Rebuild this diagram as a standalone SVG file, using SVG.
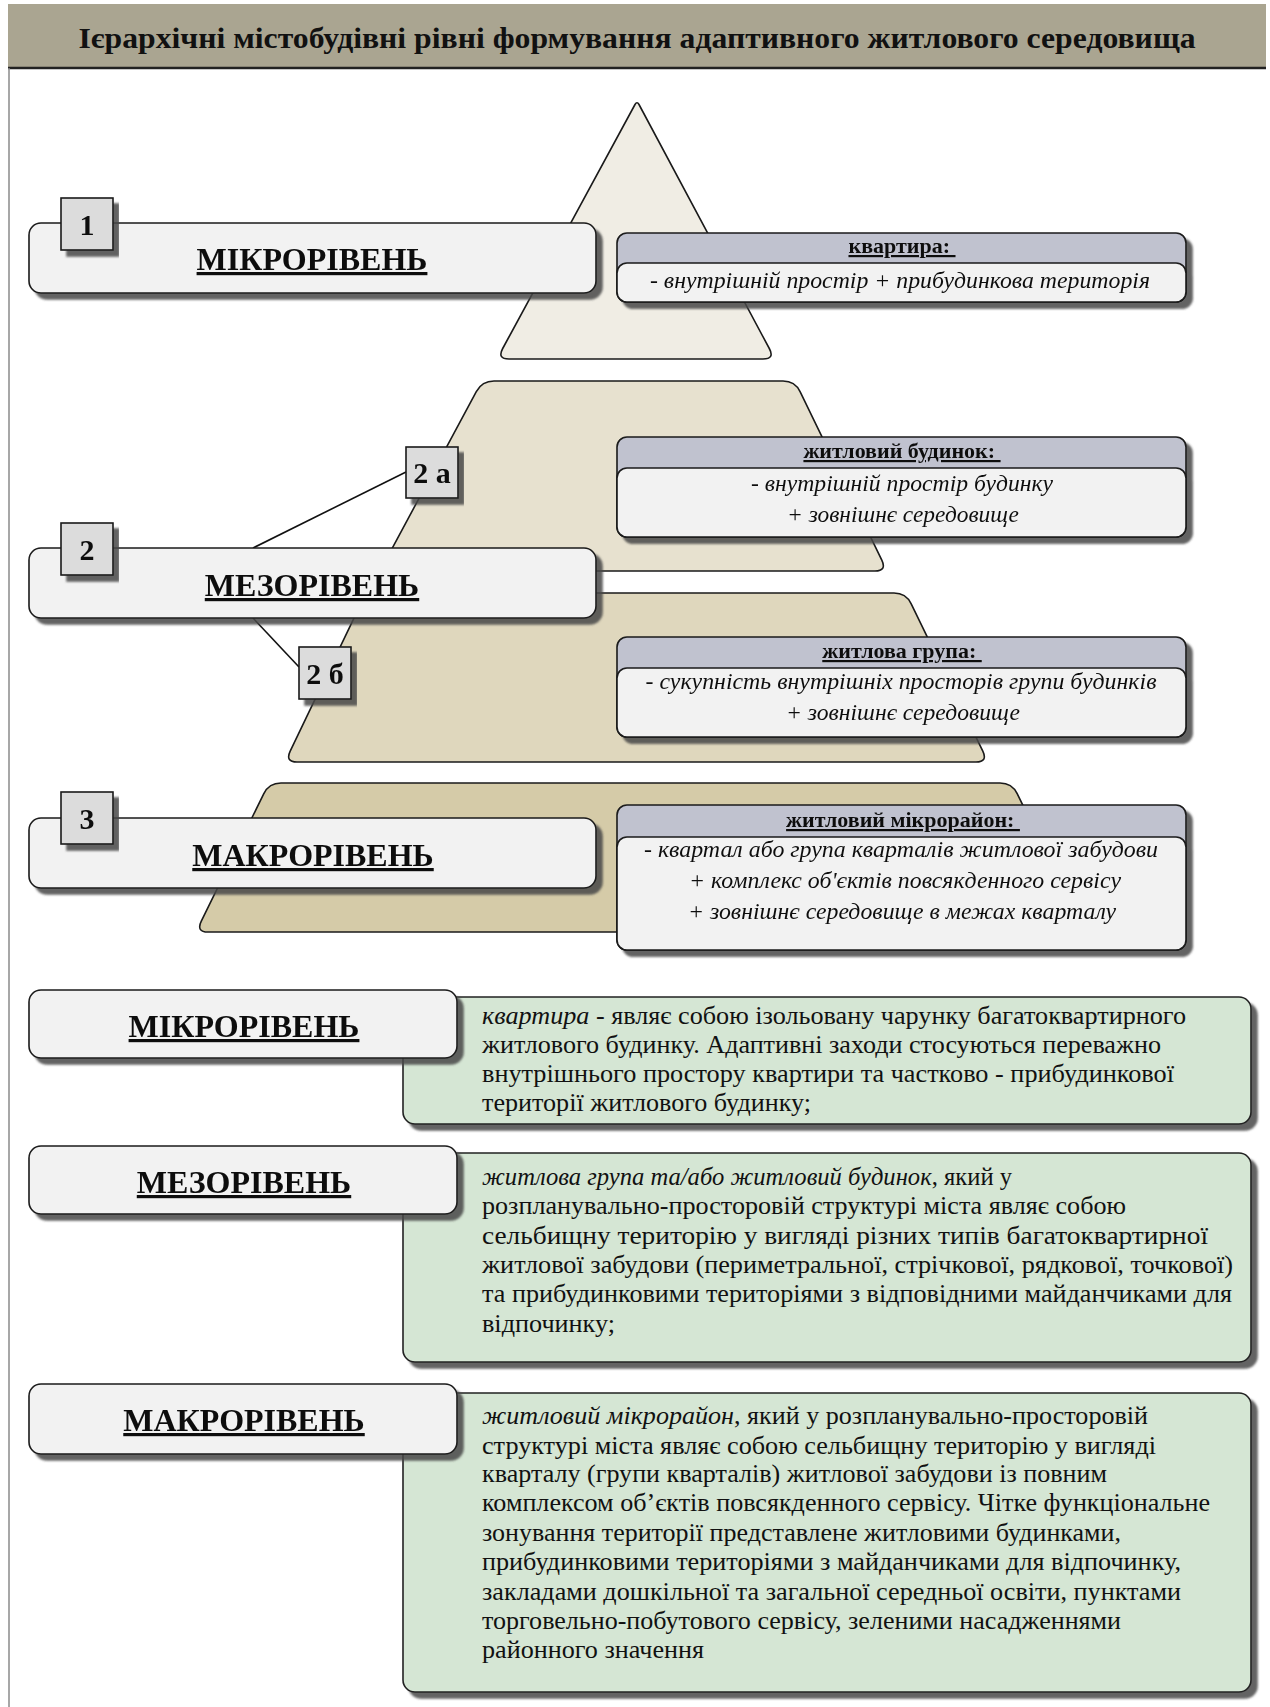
<svg xmlns="http://www.w3.org/2000/svg" width="1270" height="1707" viewBox="0 0 1270 1707">
<defs>
<filter id="sh" x="-5%" y="-10%" width="115%" height="135%">
<feDropShadow dx="6" dy="6" stdDeviation="1.2" flood-color="#4a4a4a" flood-opacity="0.85"/>
</filter>
<style>
text{font-family:"Liberation Serif","Times New Roman",serif;fill:#111}
.bar{fill:#f2f2f2;stroke:#1a1a1a;stroke-width:1.6}
.num{fill:#dcdcdc;stroke:#1a1a1a;stroke-width:1.6}
.hd{fill:#c0c2cf;stroke:#1a1a1a;stroke-width:1.6}
.bd{fill:#f2f2f2;stroke:#1a1a1a;stroke-width:1.6}
.gr{fill:#d5e6d4;stroke:#222;stroke-width:1.6}
.pyr{stroke:#1a1a1a;stroke-width:1.6}
.lvl{font-size:32px;font-weight:bold;text-anchor:middle;text-decoration:underline}
.nt{font-size:30px;font-weight:bold;text-anchor:middle}
.ht{font-size:22px;font-weight:bold;text-anchor:middle;text-decoration:underline}
.it{font-size:24px;font-style:italic;text-anchor:middle}
.gt{font-size:25px}
.gi{font-style:italic}
.conn{stroke:#111;stroke-width:1.6;fill:none}
</style>
</defs>
<rect width="1270" height="1707" fill="#ffffff"/>

<g id="title">
<rect x="8" y="4" width="1258" height="64" fill="#aaa591"/>
<line x1="8" y1="68" x2="1266" y2="68" stroke="#222" stroke-width="2.5"/>
<line x1="9" y1="68" x2="9" y2="1707" stroke="#8a8a8a" stroke-width="1.5"/>
<text x="637" y="48" font-size="29" font-weight="bold" text-anchor="middle" textLength="1117" lengthAdjust="spacingAndGlyphs">Ієрархічні містобудівні рівні формування адаптивного житлового середовища</text>
</g>

<g id="pyramid">
<path class="pyr" fill="#d5cba8" d="M281,783 L1000,783 Q1012,783 1017.3,793.8 L1079.7,921.2 Q1085,932 1073,932 L208,932 Q196,932 201.3,921.2 L263.7,793.8 Q269,783 281,783 Z"/>
<path class="pyr" fill="#dfd7bd" d="M378,593 L894,593 Q906,593 911.2,603.8 L982.8,751.2 Q988,762 976,762 L297,762 Q285,762 290.2,751.2 L360.8,603.8 Q366,593 378,593 Z"/>
<path class="pyr" fill="#e7e1cf" d="M494,381 L783,381 Q795,381 800.2,391.8 L881.8,560.2 Q887,571 875,571 L392,571 Q380,571 385.7,560.4 L476.3,391.6 Q482,381 494,381 Z"/>
<path class="pyr" fill="#f0ede4" d="M635,104.5 Q637,101 639,104.5 L769.3,348.5 Q775,359 763,359 L509,359 Q497,359 502.7,348.5 Z"/>
</g>

<g id="connectors">
<line class="conn" x1="253" y1="548" x2="406" y2="472"/>
<line class="conn" x1="253" y1="618" x2="299" y2="667"/>
</g>

<g id="micro-bar" filter="url(#sh)">
<rect class="bar" x="29" y="223" width="567" height="70" rx="12"/>
<text class="lvl" x="312" y="270">МІКРОРІВЕНЬ</text>
</g>
<g id="num-1" filter="url(#sh)">
<rect class="num" x="61" y="198" width="52" height="52"/>
<text class="nt" x="87" y="235">1</text>
</g>

<g id="meso-bar" filter="url(#sh)">
<rect class="bar" x="29" y="548" width="567" height="70" rx="12"/>
<text class="lvl" x="312" y="596">МЕЗОРІВЕНЬ</text>
</g>
<g id="num-2" filter="url(#sh)">
<rect class="num" x="61" y="523" width="52" height="52"/>
<text class="nt" x="87" y="560">2</text>
</g>
<g id="num-2a" filter="url(#sh)">
<rect class="num" x="406" y="447" width="52" height="51"/>
<text class="nt" x="432" y="483">2 а</text>
</g>
<g id="num-2b" filter="url(#sh)">
<rect class="num" x="299" y="647" width="52" height="52"/>
<text class="nt" x="325" y="684">2 б</text>
</g>

<g id="macro-bar" filter="url(#sh)">
<rect class="bar" x="29" y="818" width="567" height="70" rx="12"/>
<text class="lvl" x="313" y="866">МАКРОРІВЕНЬ</text>
</g>
<g id="num-3" filter="url(#sh)">
<rect class="num" x="61" y="792" width="52" height="52"/>
<text class="nt" x="87" y="829">3</text>
</g>

<g id="box-kvartyra" filter="url(#sh)">
<rect class="hd" x="617" y="233" width="569" height="69" rx="10"/>
<rect class="bd" x="617" y="263" width="569" height="39" rx="10"/>
<text class="ht" x="902" y="253">квартира:&#160;</text>
<text class="it" x="900" y="288" textLength="500" lengthAdjust="spacingAndGlyphs">- внутрішній простір + прибудинкова територія</text>
</g>

<g id="box-budynok" filter="url(#sh)">
<rect class="hd" x="617" y="437" width="569" height="100" rx="10"/>
<rect class="bd" x="617" y="468" width="569" height="69" rx="10"/>
<text class="ht" x="902" y="458">житловий будинок:&#160;</text>
<text class="it" x="902" y="491" textLength="302" lengthAdjust="spacingAndGlyphs">- внутрішній простір будинку</text>
<text class="it" x="903" y="522" textLength="232" lengthAdjust="spacingAndGlyphs">+ зовнішнє середовище</text>
</g>

<g id="box-hrupa" filter="url(#sh)">
<rect class="hd" x="617" y="637" width="569" height="100" rx="10"/>
<rect class="bd" x="617" y="668" width="569" height="69" rx="10"/>
<text class="ht" x="902" y="658">житлова група:&#160;</text>
<text class="it" x="901" y="689" textLength="511" lengthAdjust="spacingAndGlyphs">- сукупність внутрішніх просторів групи будинків</text>
<text class="it" x="903" y="720" textLength="234" lengthAdjust="spacingAndGlyphs">+ зовнішнє середовище</text>
</g>

<g id="box-mikroraion" filter="url(#sh)">
<rect class="hd" x="617" y="805" width="569" height="145" rx="10"/>
<rect class="bd" x="617" y="837" width="569" height="113" rx="10"/>
<text class="ht" x="903" y="827">житловий мікрорайон:&#160;</text>
<text class="it" x="901" y="857" textLength="514" lengthAdjust="spacingAndGlyphs">- квартал або група кварталів житлової забудови</text>
<text class="it" x="905" y="888" textLength="432" lengthAdjust="spacingAndGlyphs">+ комплекс об'єктів повсякденного сервісу</text>
<text class="it" x="902" y="919" textLength="428" lengthAdjust="spacingAndGlyphs">+ зовнішнє середовище в межах кварталу</text>
</g>

<g id="desc-micro">
<rect class="gr" x="403" y="997" width="848" height="127" rx="12" filter="url(#sh)"/>
<text class="gt" x="482" y="1024" textLength="704" lengthAdjust="spacingAndGlyphs"><tspan class="gi">квартира</tspan> - являє собою ізольовану чарунку багатоквартирного</text>
<text class="gt" x="482" y="1053" textLength="679" lengthAdjust="spacingAndGlyphs">житлового будинку. Адаптивні заходи стосуються переважно</text>
<text class="gt" x="482" y="1082" textLength="692" lengthAdjust="spacingAndGlyphs">внутрішнього простору квартири та частково - прибудинкової</text>
<text class="gt" x="482" y="1111" textLength="329" lengthAdjust="spacingAndGlyphs">території житлового будинку;</text>
</g>
<g id="label-micro" filter="url(#sh)">
<rect class="bar" x="29" y="990" width="428" height="68" rx="12"/>
<text class="lvl" x="244" y="1037">МІКРОРІВЕНЬ</text>
</g>

<g id="desc-meso">
<rect class="gr" x="403" y="1153" width="848" height="209" rx="12" filter="url(#sh)"/>
<text class="gt" x="482" y="1185" textLength="530" lengthAdjust="spacingAndGlyphs"><tspan class="gi">житлова група та/або житловий будинок</tspan>, який у</text>
<text class="gt" x="482" y="1214" textLength="644" lengthAdjust="spacingAndGlyphs">розпланувально-просторовій структурі міста являє собою</text>
<text class="gt" x="482" y="1244" textLength="726" lengthAdjust="spacingAndGlyphs">сельбищну територію у вигляді різних типів багатоквартирної</text>
<text class="gt" x="482" y="1273" textLength="751" lengthAdjust="spacingAndGlyphs">житлової забудови (периметральної, стрічкової, рядкової, точкової)</text>
<text class="gt" x="482" y="1302" textLength="750" lengthAdjust="spacingAndGlyphs">та прибудинковими територіями з відповідними майданчиками для</text>
<text class="gt" x="482" y="1332" textLength="133" lengthAdjust="spacingAndGlyphs">відпочинку;</text>
</g>
<g id="label-meso" filter="url(#sh)">
<rect class="bar" x="29" y="1146" width="428" height="68" rx="12"/>
<text class="lvl" x="244" y="1193">МЕЗОРІВЕНЬ</text>
</g>

<g id="desc-macro">
<rect class="gr" x="403" y="1393" width="848" height="299" rx="12" filter="url(#sh)"/>
<text class="gt" x="482" y="1424" textLength="666" lengthAdjust="spacingAndGlyphs"><tspan class="gi">житловий мікрорайон</tspan>, який у розпланувально-просторовій</text>
<text class="gt" x="482" y="1454" textLength="674" lengthAdjust="spacingAndGlyphs">структурі міста являє собою сельбищну територію у вигляді</text>
<text class="gt" x="482" y="1482" textLength="625" lengthAdjust="spacingAndGlyphs">кварталу (групи кварталів) житлової забудови із повним</text>
<text class="gt" x="482" y="1511" textLength="728" lengthAdjust="spacingAndGlyphs">комплексом об’єктів повсякденного сервісу. Чітке функціональне</text>
<text class="gt" x="482" y="1541" textLength="639" lengthAdjust="spacingAndGlyphs">зонування території представлене житловими будинками,</text>
<text class="gt" x="482" y="1570" textLength="699" lengthAdjust="spacingAndGlyphs">прибудинковими територіями з майданчиками для відпочинку,</text>
<text class="gt" x="482" y="1600" textLength="699" lengthAdjust="spacingAndGlyphs">закладами дошкільної та загальної середньої освіти, пунктами</text>
<text class="gt" x="482" y="1629" textLength="639" lengthAdjust="spacingAndGlyphs">торговельно-побутового сервісу, зеленими насадженнями</text>
<text class="gt" x="482" y="1658" textLength="222" lengthAdjust="spacingAndGlyphs">районного значення</text>
</g>
<g id="label-macro" filter="url(#sh)">
<rect class="bar" x="29" y="1384" width="428" height="70" rx="12"/>
<text class="lvl" x="244" y="1431">МАКРОРІВЕНЬ</text>
</g>
</svg>
